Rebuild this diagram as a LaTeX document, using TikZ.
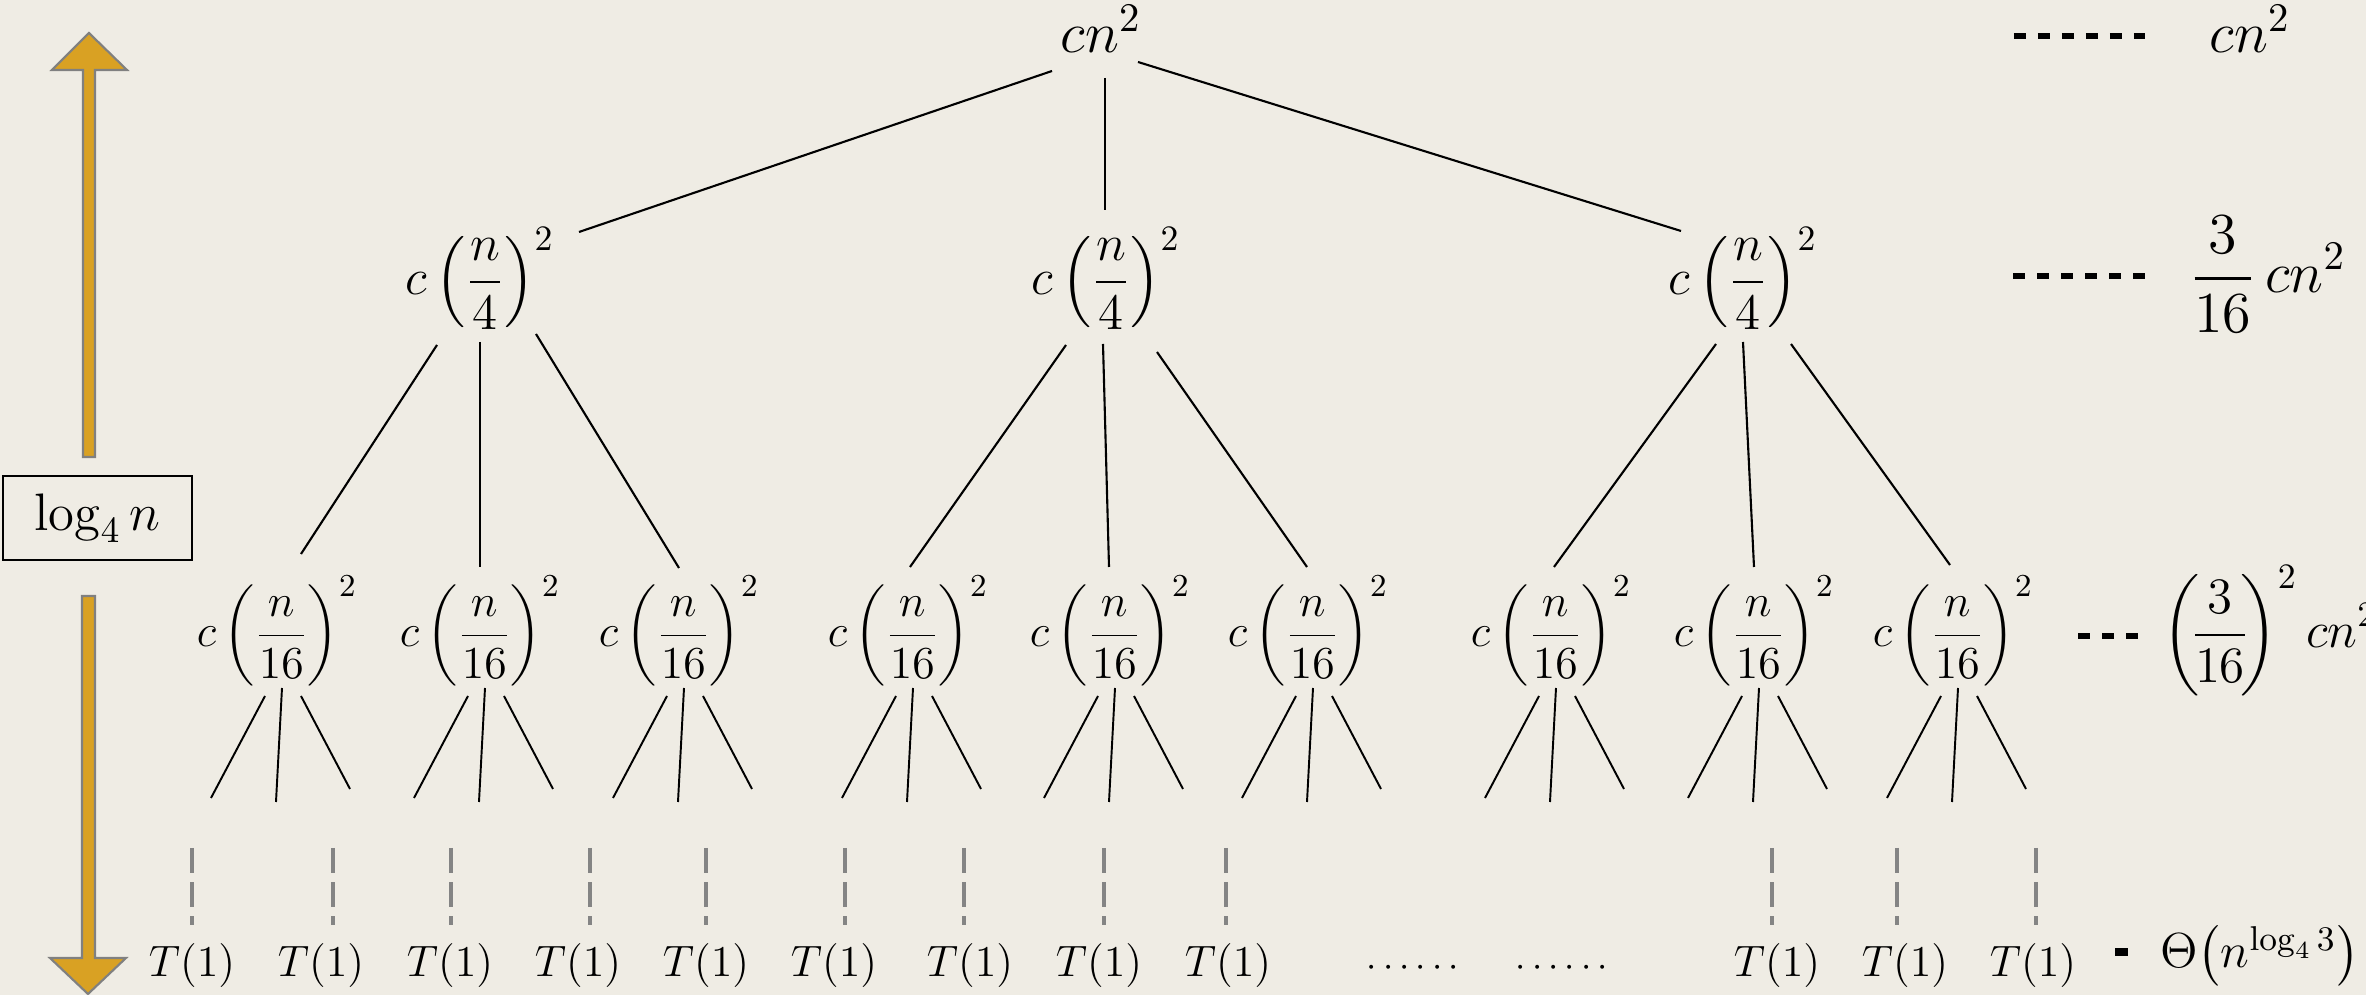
\RequirePackage{fix-cm}
\documentclass[tikz,border=0pt]{standalone}
\usepackage{amsmath}
\usetikzlibrary{calc}
\definecolor{bg}{RGB}{239,236,228}
\definecolor{gold}{RGB}{217,161,35}
\definecolor{arrowgray}{RGB}{128,128,128}
\definecolor{dashgray}{RGB}{132,132,132}
\begin{document}
\begin{tikzpicture}[x=0.01cm,y=-0.01cm,
  every node/.style={inner sep=0pt, outer sep=0pt},
  rootfont/.style={font=\fontsize{16.5}{20}\selectfont},
  lvlone/.style={font=\fontsize{14.5}{17}\selectfont, anchor=base},
  lvltwo/.style={font=\fontsize{13}{16}\selectfont, anchor=base},
  leaf/.style={font=\fontsize{12.5}{15}\selectfont, anchor=base},
  edge/.style={line width=0.6pt},
  twig/.style={line width=0.55pt},
  leafdash/.style={draw=dashgray, line width=1.3pt, dash pattern=on 0.25cm off 0.09cm},
  sumdash/.style={line width=1.7pt, dash pattern=on 0.12cm off 0.12cm},
  bigarrow/.style={fill=gold, draw=arrowgray, line width=0.6pt, line join=miter}
]
\useasboundingbox (0,0) rectangle (2366,995);
\fill[bg] (0,0) rectangle (2366,995);

% height arrows and box
\draw[bigarrow] (89,33) -- (127,70) -- (95,70) -- (95,457) -- (83,457) -- (83,70) -- (52,70) -- cycle;
\draw[bigarrow] (88,994) -- (126,958) -- (95,958) -- (95,596) -- (82,596) -- (82,958) -- (50,958) -- cycle;
\node[draw, line width=0.5pt, minimum width=1.89cm, minimum height=0.84cm,
      font=\fontsize{15}{18}\selectfont] (logbox) at (97.5,518) {$\log_4 n$};

% root
\node[rootfont, anchor=base] (root) at (1101,53) {$cn^2$};

% level 1
\node[lvlone] (a1) at (480,295) {$\displaystyle c\left(\frac{n}{4}\right)^{2}$};
\node[lvlone] (a2) at (1106,295) {$\displaystyle c\left(\frac{n}{4}\right)^{2}$};
\node[lvlone] (a3) at (1743,295) {$\displaystyle c\left(\frac{n}{4}\right)^{2}$};

% level 2
\foreach \nm/\xx in {b1/277,b2/480,b3/679,b4/908,b5/1110,b6/1308,b7/1551,b8/1754,b9/1953}{
  \node[lvltwo] (\nm) at (\xx,647) {$\displaystyle c\left(\frac{n}{16}\right)^{2}$};
}

% root edges
\draw[edge] ($(root.base)+(-49,18)$) -- ($(a1.base)+(99,-63)$);
\draw[edge] ($(root.base)+(4,25)$) -- ($(a2.base)+(-1,-85)$);
\draw[edge] ($(root.base)+(37,9)$) -- ($(a3.base)+(-62,-64)$);

% level 1 -> level 2 edges
\draw[edge] ($(a1.base)+(-43,50)$) -- ($(b1.base)+(24,-93)$);
\draw[edge] ($(a1.base)+(0,47)$) -- ($(b2.base)+(0,-80)$);
\draw[edge] ($(a1.base)+(56,39)$) -- ($(b3.base)+(0,-79)$);
\draw[edge] ($(a2.base)+(-40,50)$) -- ($(b4.base)+(2,-80)$);
\draw[edge] ($(a2.base)+(-3,49)$) -- ($(b5.base)+(-1,-80)$);
\draw[edge] ($(a2.base)+(51,57)$) -- ($(b6.base)+(-1,-80)$);
\draw[edge] ($(a3.base)+(-27,49)$) -- ($(b7.base)+(3,-80)$);
\draw[edge] ($(a3.base)+(0,47)$) -- ($(b8.base)+(0,-80)$);
\draw[edge] ($(a3.base)+(48,49)$) -- ($(b9.base)+(-3,-82)$);

% twigs under level 2
\foreach \nm in {b1,b2,b3,b4,b5,b6,b7,b8,b9}{
  \draw[twig] ($(\nm.base)+(-12,49)$) -- ($(\nm.base)+(-66,151)$);
  \draw[twig] ($(\nm.base)+(5,41)$) -- ($(\nm.base)+(-1,155)$);
  \draw[twig] ($(\nm.base)+(24,49)$) -- ($(\nm.base)+(73,142)$);
}

% leaves
\foreach \nm/\xx/\dx in {t1/192/0,t2/321/12,t3/450/1,t4/578/12,t5/706/0,t6/834/11,
                         t7/970/-6,t8/1099/5,t9/1228/-2,t10/1777/-5,t11/1905/-8,t12/2033/3}{
  \node[leaf] (\nm) at (\xx,977) {$T(1)$};
  \draw[leafdash] ($(\nm.base)+(\dx,-129)$) -- ($(\nm.base)+(\dx,-52)$);
}
\node[font=\fontsize{10.5}{12}\selectfont, anchor=base] (dots1) at (1416,977) {$\cdots\cdots$};
\node[font=\fontsize{10.5}{12}\selectfont, anchor=base] (dots2) at (1565,977) {$\cdots\cdots$};

% level sums
\node[rootfont, anchor=base] (s1) at (2250,53) {$cn^2$};
\node[rootfont, anchor=base] (s2) at (2268,293) {$\displaystyle\frac{3}{16}\,cn^2$};
\node[font=\fontsize{14.5}{17}\selectfont, anchor=base west] (s3) at (2162,648) {$\displaystyle\left(\!\frac{3}{16}\!\right)^{2} cn^2$};
\node[font=\fontsize{14}{17}\selectfont, anchor=base west] (s4) at (2160,968) {$\Theta\bigl(n^{\log_4 3}\bigr)$};

\draw[sumdash] ($(s1.base west)+(-196,-17)$) -- ($(s1.base west)+(-65,-17)$);
\draw[sumdash] ($(s2.base west)+(-177,-17)$) -- ($(s2.base west)+(-45,-17)$);
\draw[sumdash] ($(s3.base west)+(-84,-12)$) -- ($(s3.base west)+(-22,-12)$);
\draw[line width=2pt] ($(s4.base west)+(-45,-16)$) -- ($(s4.base west)+(-32,-16)$);
\end{tikzpicture}
\end{document}
